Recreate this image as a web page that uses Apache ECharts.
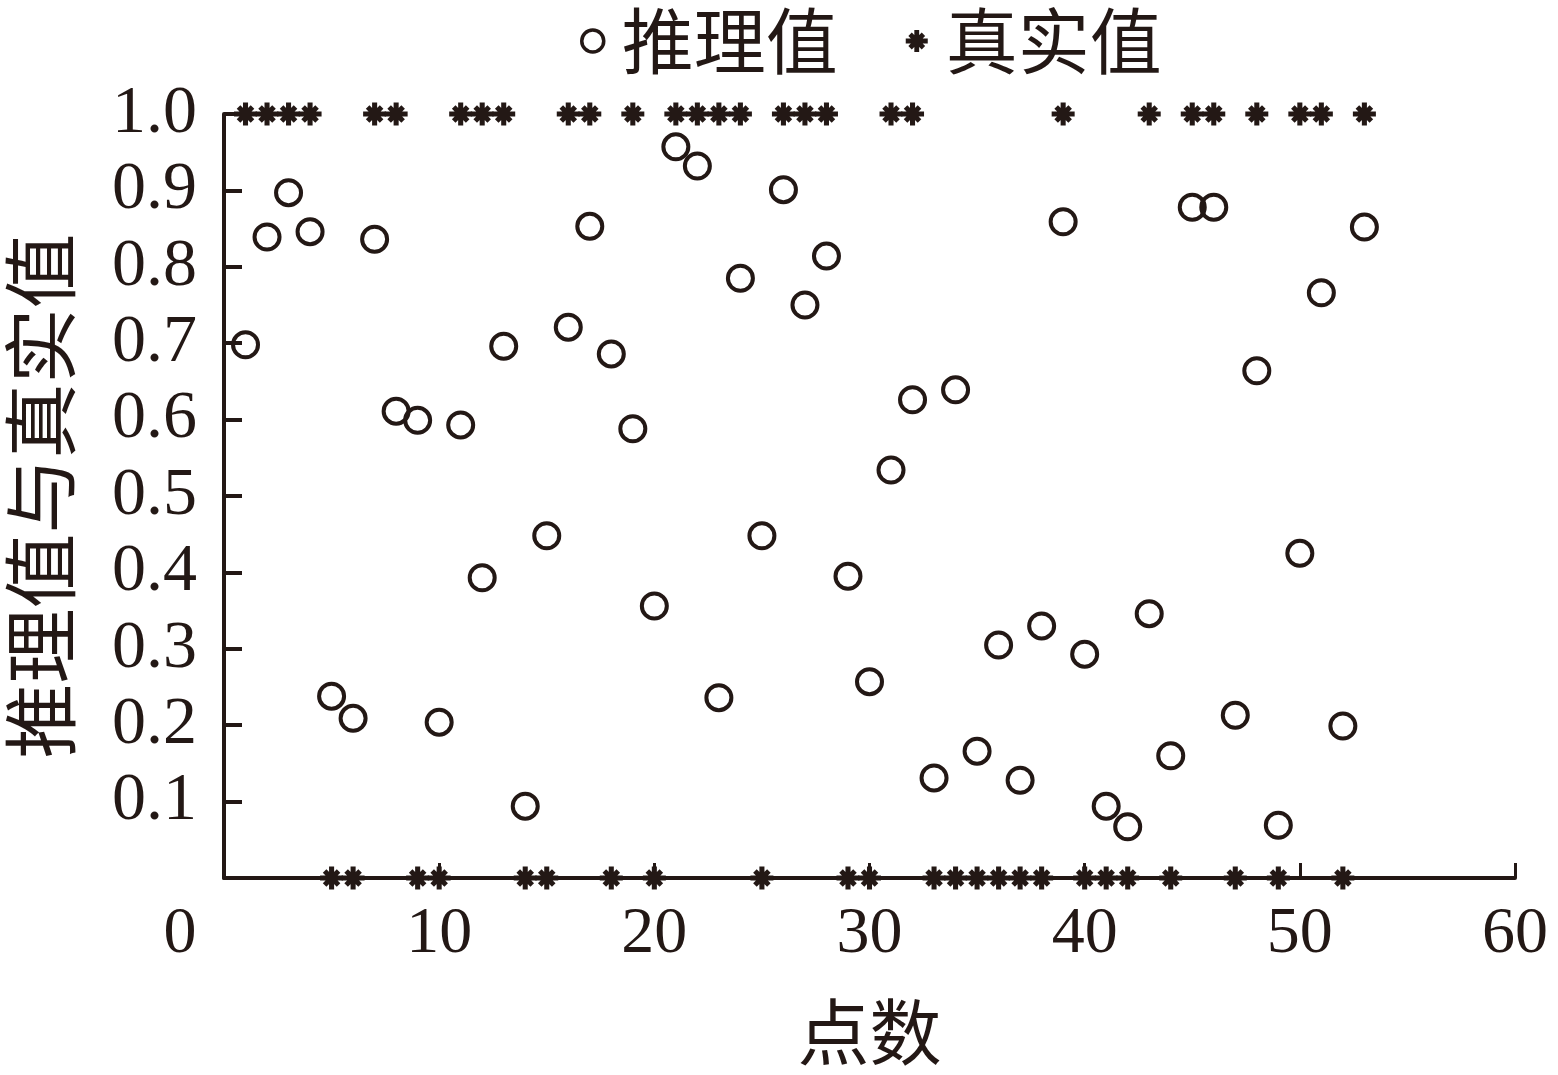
<!DOCTYPE html>
<html>
<head>
<meta charset="utf-8">
<script src="https://cdn.jsdelivr.net/npm/echarts@6/dist/echarts.min.js"></script>
<style>
html,body{margin:0;padding:0;background:#fff;}
#chart{width:1558px;height:1075px;}
</style>
</head>
<body>
<div id="chart"></div>
<script>
const pointNo = [1,2,3,4,5,6,7,8,9,10,11,12,13,14,15,16,17,18,19,20,21,22,23,24,25,26,27,28,29,30,31,32,33,34,35,36,37,38,39,40,41,42,43,44,45,46,47,48,49,50,51,52,53];
const predicted = [0.698,0.839,0.897,0.846,0.238,0.209,0.836,0.611,0.599,0.204,0.593,0.393,0.696,0.094,0.448,0.721,0.853,0.686,0.588,0.356,0.957,0.932,0.236,0.785,0.448,0.901,0.750,0.814,0.395,0.257,0.534,0.626,0.131,0.639,0.166,0.305,0.128,0.330,0.859,0.293,0.094,0.067,0.346,0.160,0.878,0.878,0.213,0.664,0.069,0.425,0.766,0.199,0.852];
const actual = [1,1,1,1, 0,0, 1,1, 0,0, 1,1,1, 0,0, 1,1, 0, 1, 0, 1,1,1,1, 0, 1,1,1, 0,0, 1,1, 0,0,0,0,0,0, 1, 0,0,0, 1, 0, 1,1, 0, 1, 0, 1,1, 0, 1];
const xTicks = [0,10,20,30,40,50,60];
const seriesNames = ['推理值','真实值'];
const xName = '点数';
const yName = '推理值与真实值';

const ink = '#231815';
const star = 'path://M-2.2,-10L2.2,-10L2.2,10L-2.2,10Z M-10,-2.2L10,-2.2L10,2.2L-10,2.2Z M-7.63,-4.52L-4.52,-7.63L7.63,4.52L4.52,7.63Z M4.52,-7.63L7.63,-4.52L-4.52,7.63L-7.63,4.52Z';
const serif = '"Liberation Serif","Times New Roman","Noto Sans CJK SC",serif';
const cjk = '"Noto Sans CJK SC",sans-serif';

const chart = echarts.init(document.getElementById('chart'), null, {renderer:'canvas'});
chart.setOption({
  backgroundColor:'#fff',
  animation:false,
  legend:{
    top:0, left:575,
    itemGap:68,
    itemWidth:22, itemHeight:22,
    textStyle:{fontFamily:cjk, fontSize:72, color:ink, padding:[0,0,0,13]},
    data:[
      {name:seriesNames[0], icon:'circle', itemStyle:{color:'#fff', borderColor:ink, borderWidth:3.5}},
      {name:seriesNames[1], icon:star, itemStyle:{color:ink, borderWidth:0}}
    ]
  },
  grid:{left:224, right:43, top:114, bottom:197, containLabel:false, outerBoundsMode:'none'},
  xAxis:{
    type:'value', min:0, max:60, interval:10,
    name:xName, nameLocation:'middle', nameGap:118,
    nameTextStyle:{fontFamily:cjk, fontSize:72, color:ink},
    axisLine:{show:true, onZero:false, lineStyle:{color:ink, width:4}},
    axisTick:{show:true, inside:true, length:15, lineStyle:{color:ink, width:3}},
    axisLabel:{fontFamily:serif, fontSize:66, color:ink, margin:24,
      formatter:v => v === 0 ? '{z|0}' : (xTicks.includes(v) ? String(v) : ''),
      rich:{z:{fontFamily:serif, fontSize:66, color:ink, padding:[0,88,0,0]}}},
    splitLine:{show:false}
  },
  yAxis:{
    type:'value', min:0, max:1, interval:0.1,
    name:yName, nameLocation:'middle', nameGap:146, nameRotate:90,
    nameTextStyle:{fontFamily:cjk, fontSize:75, color:ink},
    axisLine:{show:true, onZero:false, lineStyle:{color:ink, width:4}},
    axisTick:{show:true, inside:true, length:18, lineStyle:{color:ink, width:4}},
    axisLabel:{fontFamily:serif, fontSize:68, color:ink, margin:27,
      formatter:v => v === 0 ? '' : v.toFixed(1)},
    splitLine:{show:false}
  },
  series:[
    {
      name:seriesNames[0], type:'scatter', clip:false,
      symbol:'circle', symbolSize:25,
      itemStyle:{color:'rgba(255,255,255,0)', borderColor:ink, borderWidth:4, opacity:1},
      data:pointNo.map((x,i)=>[x, predicted[i]]), z:3
    },
    {
      name:seriesNames[1], type:'scatter', clip:false,
      symbol:star, symbolSize:23,
      itemStyle:{color:ink, opacity:1},
      data:pointNo.map((x,i)=>[x, actual[i]]), z:4
    }
  ]
});
</script>
</body>
</html>
